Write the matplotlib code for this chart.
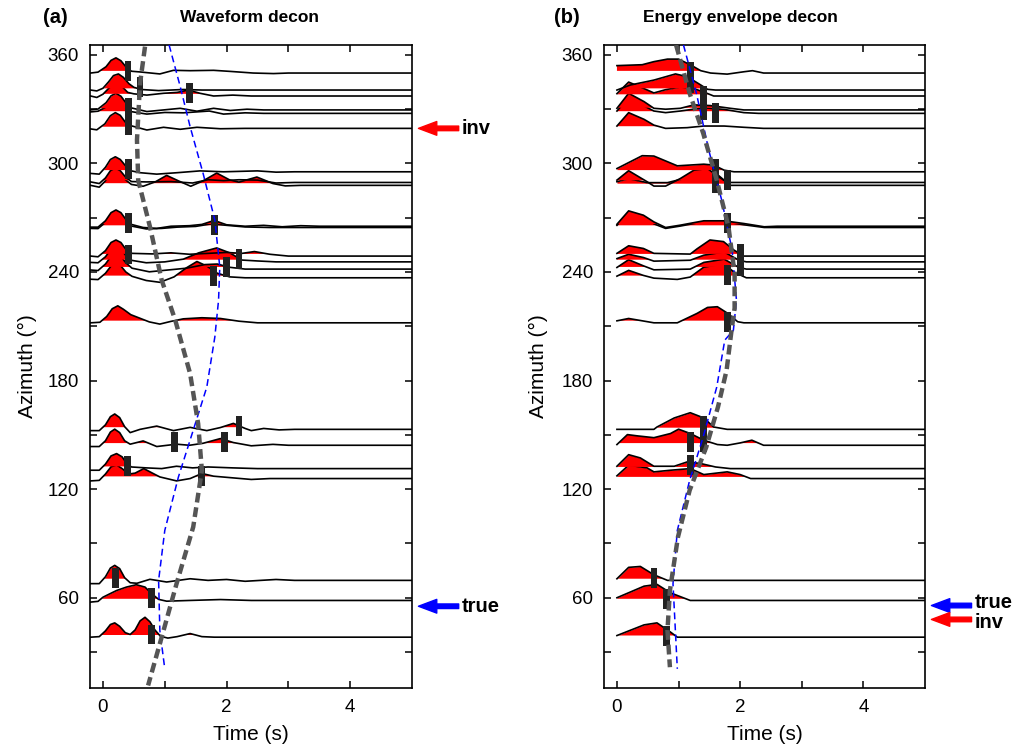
import numpy as np
import matplotlib
matplotlib.use('Agg')
import matplotlib.pyplot as plt
from matplotlib.patches import Rectangle
from matplotlib.transforms import blended_transform_factory

plt.rcParams['font.family'] = ['Liberation Sans', 'DejaVu Sans']

# station azimuths (deg), shared by both panels
azimuths = [350.0, 340.6, 337.3, 329.6, 327.7, 319.4,
            295.4, 289.5, 287.9, 265.3, 264.6,
            248.8, 245.6, 241.6, 236.8, 211.9,
            153.0, 144.2, 131.3, 125.8, 69.5, 58.4, 38.1]

# (a) waveform decon traces, (time s, amplitude deg) knots
wave_knots = [
    [(-0.2, 0.0), (-0.08, 0.5), (0.05, 3.5), (0.13, 7.0), (0.21, 8.4), (0.29, 6.8), (0.37, 3.5), (0.46, 1.0),
     (0.6, 0.6), (0.92, -0.5), (1.14, 1.5), (1.41, 1.3), (1.79, 1.5), (2.06, 0.9), (2.43, 0.0), (2.76, -0.3), (3.0, 0.0), (5.0, 0.0)],
    [(-0.2, 0.0), (-0.1, -0.5), (0.0, 1.0), (0.09, 4.5), (0.17, 8.0), (0.25, 8.9), (0.33, 7.0), (0.42, 3.5),
     (0.5, 1.5), (0.62, 0.3), (0.9, -0.3), (1.3, 0.3), (1.6, 0.0), (5.0, 0.0)],
    [(-0.2, 0.0), (-0.1, -0.8), (0.0, 1.0), (0.1, 4.5), (0.2, 7.0), (0.3, 5.5), (0.4, 2.0), (0.5, 1.2),
     (0.71, 0.5), (0.98, 1.5), (1.2, 2.0), (1.38, 3.3), (1.57, 1.5), (1.79, 0.0), (2.1, 0.5), (2.4, 0.0), (5.0, 0.0)],
    [(-0.2, 0.0), (-0.08, 0.5), (0.05, 4.0), (0.13, 7.8), (0.21, 9.2), (0.29, 7.6), (0.37, 4.0), (0.45, 1.2),
     (0.71, -0.9), (0.98, 0.0), (1.25, 0.9), (1.52, -0.7), (1.79, 0.9), (2.06, -0.3), (2.33, 0.4), (2.6, 0.0), (5.0, 0.0)],
    [(-0.2, 0.8), (-0.08, 1.2), (0.05, 3.5), (0.13, 6.5), (0.21, 7.5), (0.29, 6.3), (0.37, 3.0), (0.45, 1.0),
     (0.71, -0.4), (1.0, 0.5), (1.3, 0.3), (1.72, 1.3), (1.95, -0.4), (2.3, 0.3), (2.6, 0.0), (5.0, 0.0)],
    [(-0.2, -0.3), (-0.1, -0.8), (0.03, 2.5), (0.12, 7.0), (0.2, 8.7), (0.28, 7.2), (0.36, 3.5), (0.45, 1.5),
     (0.71, -0.9), (0.98, 0.6), (1.25, -0.5), (1.52, 0.6), (1.9, -0.2), (2.3, 0.0), (5.0, 0.0)],
    [(-0.2, -0.9), (-0.06, -1.3), (0.04, 2.5), (0.12, 6.8), (0.2, 8.3), (0.28, 6.8), (0.36, 3.5), (0.46, 0.5),
     (0.6, -0.5), (0.87, -1.3), (1.2, -0.5), (1.57, 0.5), (1.95, 0.0), (2.5, 0.5), (2.8, -0.2), (3.1, 0.0), (5.0, 0.0)],
    [(-0.2, 0.3), (-0.06, -0.6), (0.04, 2.5), (0.12, 6.5), (0.2, 8.0), (0.28, 6.5), (0.36, 3.2), (0.46, 0.5),
     (0.7, 0.3), (1.1, 0.5), (1.45, -0.3), (1.7, 1.5), (1.95, 1.0), (2.2, 1.5), (2.5, 1.3), (2.8, -0.3), (3.1, 0.0), (5.0, 0.0)],
    [(-0.2, 0.0), (-0.06, -1.0), (0.04, 2.5), (0.12, 6.5), (0.2, 8.0), (0.28, 6.5), (0.36, 3.2), (0.46, 0.5),
     (0.65, -0.5), (0.85, 2.0), (1.03, 5.5), (1.22, 2.5), (1.42, -0.5), (1.62, 2.5), (1.84, 6.8), (2.05, 3.0),
     (2.2, 1.8), (2.49, 4.6), (2.75, 1.0), (2.95, -0.3), (3.2, 0.0), (5.0, 0.0)],
    [(-0.2, -0.5), (-0.08, -0.5), (0.04, 3.0), (0.13, 7.5), (0.21, 9.0), (0.29, 7.5), (0.37, 3.8), (0.46, 1.0),
     (0.65, -0.7), (0.87, -1.2), (1.1, 0.0), (1.4, 0.3), (1.6, 1.0), (1.8, 3.2), (2.0, 0.8), (2.3, 0.0),
     (2.6, 0.5), (2.9, -0.3), (3.2, 0.3), (3.5, 0.0), (5.0, 0.0)],
    [(-0.2, -0.5), (-0.08, -0.6), (0.04, 2.8), (0.13, 7.0), (0.21, 8.5), (0.29, 7.0), (0.37, 3.5), (0.46, 0.8),
     (0.7, -0.8), (0.95, -0.5), (1.2, 0.2), (1.5, 0.6), (1.75, 2.0), (2.0, 1.2), (2.3, 0.3), (2.7, 0.0), (5.0, 0.0)],
    [(-0.2, 0.0), (-0.08, -0.4), (0.04, 3.0), (0.13, 7.5), (0.21, 8.9), (0.29, 7.5), (0.37, 3.8), (0.47, 1.5),
     (0.8, 1.2), (1.1, 1.8), (1.4, 1.0), (1.7, 1.5), (2.0, 2.0), (2.25, 1.5), (2.45, 2.5), (2.7, 1.0), (3.0, 0.0), (5.0, 0.0)],
    [(-0.2, -0.3), (-0.08, -0.5), (0.04, 2.8), (0.13, 7.0), (0.21, 8.5), (0.29, 7.0), (0.37, 3.5), (0.47, 0.8),
     (0.7, -0.5), (1.0, 0.0), (1.3, 1.5), (1.55, 5.0), (1.84, 7.7), (2.05, 5.0), (2.25, 1.0), (2.5, 0.5), (2.8, 0.0), (5.0, 0.0)],
    [(-0.2, -0.5), (-0.08, -0.8), (0.04, 2.8), (0.13, 7.0), (0.21, 8.5), (0.29, 7.0), (0.37, 3.5), (0.47, 0.5),
     (0.75, -1.5), (1.05, -0.5), (1.35, 0.5), (1.65, 2.5), (1.85, 2.8), (2.05, 1.0), (2.3, 0.0), (5.0, 0.0)],
    [(-0.2, -0.8), (-0.08, -1.0), (0.04, 2.5), (0.13, 6.5), (0.21, 8.0), (0.29, 6.5), (0.37, 3.2), (0.47, 0.8),
     (0.7, -1.5), (0.92, -2.5), (1.15, 0.5), (1.35, 5.5), (1.52, 9.0), (1.68, 6.5), (1.85, 2.5), (2.05, 0.5), (2.3, 0.0), (5.0, 0.0)],
    [(-0.2, 0.0), (-0.05, 0.3), (0.06, 3.5), (0.15, 7.8), (0.24, 9.4), (0.33, 7.5), (0.45, 4.5), (0.6, 2.5),
     (0.75, 0.5), (0.92, -0.7), (1.1, 0.8), (1.3, 2.2), (1.6, 2.8), (1.9, 2.4), (2.2, 0.9), (2.5, 0.0), (5.0, 0.0)],
    [(-0.2, -0.7), (-0.06, -0.7), (0.04, 2.5), (0.12, 7.0), (0.19, 8.5), (0.27, 6.5), (0.35, 1.5), (0.44, -1.8),
     (0.6, 0.0), (0.87, 1.8), (1.14, -0.7), (1.41, 1.1), (1.68, -0.7), (1.9, 1.0), (2.11, 3.3), (2.3, 0.5),
     (2.4, -0.7), (2.6, 0.5), (2.85, -0.3), (3.1, 0.0), (5.0, 0.0)],
    [(-0.2, -0.7), (-0.06, -0.7), (0.04, 2.5), (0.12, 7.3), (0.19, 8.9), (0.27, 7.0), (0.35, 2.5), (0.44, 0.6),
     (0.65, 2.4), (0.87, -0.7), (1.19, 0.6), (1.4, 0.0), (1.62, 1.1), (1.9, 3.7), (2.11, 1.5), (2.4, -0.3),
     (2.75, 0.5), (3.0, 0.0), (5.0, 0.0)],
    [(-0.2, -0.9), (-0.06, -0.9), (0.04, 2.5), (0.13, 7.0), (0.22, 8.3), (0.31, 6.5), (0.38, 3.0), (0.46, 0.9),
     (0.7, 0.4), (0.95, 0.0), (1.19, 1.3), (1.45, 0.4), (1.7, 0.9), (2.1, 0.4), (2.5, 0.0), (5.0, 0.0)],
    [(-0.2, -1.3), (-0.06, -1.0), (0.04, 2.5), (0.13, 6.5), (0.22, 7.5), (0.31, 5.5), (0.42, 2.5), (0.52, 3.0),
     (0.66, 5.5), (0.8, 3.0), (0.92, 0.9), (1.19, -1.3), (1.41, 0.0), (1.6, 2.8), (1.79, 1.3), (2.06, 0.5),
     (2.4, -0.5), (2.7, 0.0), (5.0, 0.0)],
    [(-0.2, -1.8), (-0.06, -1.8), (0.04, 2.0), (0.12, 6.8), (0.19, 8.3), (0.27, 6.5), (0.35, 1.5), (0.44, -1.3),
     (0.55, -1.6), (0.76, 0.6), (1.03, -0.9), (1.41, 0.9), (1.7, 0.0), (2.0, 0.5), (2.3, -0.5), (2.8, 0.5), (3.1, 0.0), (5.0, 0.0)],
    [(-0.2, -0.9), (-0.08, -0.5), (0.0, 1.8), (0.1, 3.5), (0.22, 5.5), (0.38, 7.4), (0.54, 8.7), (0.68, 7.4),
     (0.79, 3.7), (0.9, 0.6), (1.03, -0.4), (1.4, 0.0), (1.9, 0.5), (2.4, 0.0), (5.0, 0.0)],
    [(-0.2, 0.0), (-0.06, 0.3), (0.04, 3.5), (0.12, 7.0), (0.19, 7.9), (0.27, 6.0), (0.36, 2.5), (0.44, 1.5),
     (0.52, 4.0), (0.6, 9.0), (0.68, 11.0), (0.76, 8.5), (0.84, 4.0), (0.93, 0.5), (1.05, -0.5), (1.2, 0.3),
     (1.41, 2.0), (1.6, 0.3), (1.8, 0.0), (5.0, 0.0)],
]

# (b) energy envelope decon traces
env_knots = [
    [(0.0, 4.1), (0.41, 4.6), (0.6, 6.3), (0.82, 7.7), (1.0, 7.7), (1.2, 4.4), (1.36, 1.3), (1.52, 0.0),
     (1.79, -0.6), (2.06, 0.7), (2.2, 1.3), (2.38, 0.0), (5.0, 0.0)],
    [(0.0, 0.0), (0.22, 2.8), (0.6, 5.5), (0.95, 8.9), (1.14, 7.4), (1.36, 2.8), (1.47, 0.4), (1.6, 0.0), (5.0, 0.0)],
    [(0.0, 1.3), (0.19, 7.7), (0.38, 5.0), (0.6, 1.7), (0.79, 3.5), (1.03, 5.0), (1.25, 4.1), (1.41, 2.2),
     (1.57, 0.0), (5.0, 0.0)],
    [(0.0, 0.9), (0.19, 9.2), (0.44, 4.6), (0.6, 0.9), (0.79, 0.4), (1.03, 0.9), (1.25, 2.8), (1.52, 2.4),
     (1.84, 0.9), (2.06, 0.0), (5.0, 0.0)],
    [(0.0, 1.3), (0.19, 8.7), (0.44, 4.1), (0.6, 1.3), (0.79, 0.4), (1.03, 1.3), (1.41, 3.1), (1.74, 2.2),
     (2.06, 0.4), (2.3, 0.0), (5.0, 0.0)],
    [(0.0, 1.3), (0.19, 8.7), (0.44, 5.0), (0.6, 1.8), (0.79, 0.0), (1.14, 0.4), (1.41, 1.3), (1.74, 1.3),
     (2.06, 0.6), (2.38, 0.0), (5.0, 0.0)],
    [(0.0, 1.8), (0.41, 8.9), (0.6, 8.7), (0.98, 3.3), (1.41, 4.2), (1.57, 3.7), (1.74, 0.9), (1.9, 0.0), (5.0, 0.0)],
    [(0.0, 1.3), (0.19, 6.5), (0.49, 0.4), (0.6, -2.0), (0.79, -2.0), (1.03, 2.2), (1.25, 6.8), (1.47, 7.7),
     (1.65, 3.1), (1.79, 0.0), (5.0, 0.0)],
    [(0.0, 2.0), (0.19, 3.7), (0.49, 1.5), (0.82, 1.5), (1.14, 4.2), (1.41, 8.5), (1.63, 6.0), (1.84, 0.0), (5.0, 0.0)],
    [(0.0, 1.1), (0.19, 8.5), (0.43, 6.1), (0.6, 2.4), (0.79, -0.7), (1.03, 0.6), (1.41, 3.0), (1.74, 3.0),
     (2.06, 1.5), (2.39, -0.3), (2.6, 0.0), (5.0, 0.0)],
    [(0.0, 1.2), (0.19, 8.2), (0.43, 5.8), (0.6, 2.0), (0.79, -0.5), (1.03, 0.8), (1.41, 3.2), (1.74, 3.2),
     (2.06, 1.5), (2.39, 0.0), (5.0, 0.0)],
    [(0.0, 1.5), (0.19, 5.7), (0.43, 4.2), (0.6, 1.5), (1.19, 1.1), (1.3, 4.0), (1.51, 8.9), (1.73, 8.0),
     (1.9, 3.3), (2.06, 0.0), (5.0, 0.0)],
    [(0.0, 1.8), (0.19, 4.2), (0.43, 2.4), (0.6, 0.4), (1.19, 0.9), (1.41, 3.7), (1.74, 5.5), (1.98, 0.9),
     (2.1, 0.0), (5.0, 0.0)],
    [(0.0, 0.9), (0.19, 5.2), (0.43, 1.8), (0.6, -0.4), (1.19, 0.0), (1.41, 3.7), (1.74, 5.5), (1.98, 0.9),
     (2.1, 0.0), (5.0, 0.0)],
    [(0.0, 0.9), (0.19, 4.1), (0.43, 1.3), (0.6, -0.2), (0.98, -0.9), (1.19, 0.4), (1.41, 5.9), (1.74, 7.7),
     (1.9, 3.1), (2.1, 0.0), (5.0, 0.0)],
    [(0.0, 1.1), (0.19, 2.4), (0.6, 0.0), (0.98, 0.0), (1.3, 5.2), (1.47, 8.5), (1.63, 8.9), (1.8, 5.2),
     (1.96, 0.6), (2.06, 0.0), (5.0, 0.0)],
    [(0.0, 0.0), (0.6, 0.0), (0.65, 1.3), (0.93, 6.3), (1.19, 9.2), (1.41, 6.3), (1.57, 1.3), (1.79, 0.0), (5.0, 0.0)],
    [(0.0, 0.4), (0.17, 5.9), (0.33, 5.2), (0.6, 4.2), (0.87, 6.5), (1.0, 8.9), (1.19, 6.5), (1.41, 2.8),
     (1.63, 0.4), (1.79, 0.0), (2.0, 1.3), (2.19, 2.8), (2.38, 0.0), (5.0, 0.0)],
    [(0.0, 1.3), (0.19, 7.7), (0.38, 5.9), (0.6, 1.3), (0.93, 1.3), (1.14, 3.7), (1.36, 2.8), (1.6, 0.9),
     (1.84, 0.0), (5.0, 0.0)],
    [(0.0, 1.5), (0.19, 7.4), (0.49, 5.9), (0.6, 3.7), (0.87, 4.6), (1.19, 5.5), (1.41, 2.2), (1.79, 3.7),
     (2.0, 2.2), (2.17, 0.0), (5.0, 0.0)],
    [(0.0, 0.9), (0.19, 7.2), (0.38, 7.7), (0.6, 3.1), (0.82, 0.0), (5.0, 0.0)],
    [(0.0, 1.5), (0.44, 7.9), (0.65, 8.9), (0.87, 4.2), (1.19, 0.0), (5.0, 0.0)],
    [(0.0, 0.9), (0.44, 6.8), (0.65, 7.9), (0.87, 2.8), (0.98, 0.0), (5.0, 0.0)],
]

# picked arrivals (black bars)
pick_a_t = [0.405, 0.6, 1.40, 0.41, 0.41, 0.41, 0.41, 1.80, 0.41, 2.2, 2.0, 1.79,
            2.20, 1.16, 1.97, 0.40, 1.60, 0.2, 0.79, 0.79]
pick_a_az = [350.9, 342.1, 339.1, 330.5, 321.3, 296.7, 267.0, 265.9, 249.7, 247.3, 242.8, 237.9,
             155.0, 146.0, 146.0, 132.7, 127.0, 70.7, 59.7, 39.6]
pick_b_t = [1.19, 1.19, 1.40, 1.40, 1.6, 1.6, 1.6, 1.79, 1.80, 2.0, 2.0, 1.8,
            1.8, 1.40, 1.40, 1.19, 1.19, 0.6, 0.8, 0.8]
pick_b_az = [350.8, 344.3, 337.3, 329.6, 328.1, 296.7, 289.3, 291.0, 266.9, 249.9, 243.2, 238.3,
             212.4, 154.7, 146.0, 146.0, 133.2, 70.6, 59.0, 38.9]

# moveout curves: gray = inverted, blue = true
gray_a_t = [0.68, 0.60, 0.55, 0.57, 0.76, 0.95, 1.17, 1.41, 1.54, 1.60, 1.46, 1.19, 0.98, 0.73]
gray_a_az = [364.6, 344.3, 313.0, 290.8, 265.0, 235.5, 213.3, 183.8, 156.1, 130.3, 99.0, 67.6, 41.8, 11.4]
blue_a_t = [1.07, 1.25, 1.41, 1.62, 1.81, 1.89, 1.87, 1.81, 1.68, 1.46, 1.22, 1.00, 0.90, 0.92, 1.00]
blue_a_az = [365.5, 342.5, 320.3, 294.5, 268.7, 242.8, 224.4, 204.1, 176.4, 152.5, 126.6, 97.1, 69.5, 41.8, 20.6]
gray_b_t = [0.96, 1.18, 1.40, 1.62, 1.81, 1.91, 1.91, 1.86, 1.78, 1.64, 1.45, 1.18, 0.99, 0.86, 0.82, 0.86]
gray_b_az = [365.5, 338.8, 316.7, 290.8, 265.0, 239.2, 220.0, 207.8, 185.7, 165.4, 143.2, 119.3, 93.4, 63.9, 41.8, 21.5]
blue_b_t = [1.08, 1.29, 1.49, 1.70, 1.87, 1.94, 1.89, 1.75, 1.62, 1.40, 1.18, 0.98, 0.91, 0.98]
blue_b_az = [365.5, 338.8, 307.4, 279.8, 252.0, 224.4, 207.8, 202.3, 176.4, 148.8, 124.8, 97.1, 67.6, 20.6]

# side arrows: label, arrow azimuth, label azimuth, colour
arrows_a = [('inv', 319.4, 319.4, 'red'), ('true', 55.2, 55.2, 'blue')]
arrows_b = [('true', 55.6, 57.2, 'blue'), ('inv', 47.9, 46.0, 'red')]

FILL_THR = 1.2
PICK_W, PICK_H = 0.11, 11.0


def draw_panel(ax, knots, pick_t, pick_az, gray_t, gray_az, blue_t, blue_az, arrows):
    # traces from low to high azimuth so upper fills cover lower lines
    for az, kn in sorted(zip(azimuths, knots), key=lambda p: p[0]):
        t = np.array([k[0] for k in kn])
        a = np.array([k[1] for k in kn])
        ax.fill_between(t, az + FILL_THR, az + a, where=a > FILL_THR, interpolate=True,
                        color='red', lw=0, zorder=2)
        ax.plot(t, az + a, color='black', lw=1.2, zorder=2)

    for t, az in zip(pick_t, pick_az):
        ax.add_patch(Rectangle((t - PICK_W / 2, az - PICK_H / 2), PICK_W, PICK_H,
                               color='#222222', lw=0, zorder=3))

    ax.plot(blue_t, blue_az, color='blue', lw=1.1, dashes=(4.5, 2.7), zorder=4)
    ax.plot(gray_t, gray_az, color='#555555', lw=3.2, dashes=(2.2, 1.1), zorder=5)

    trans = blended_transform_factory(ax.transAxes, ax.transData)
    for label, az, text_az, col in arrows:
        ax.annotate('', xy=(1.02, az), xycoords=trans, xytext=(1.145, az), textcoords=trans,
                    arrowprops=dict(arrowstyle='simple,head_length=0.6,head_width=0.45,tail_width=0.15',
                                    color=col, mutation_scale=22, shrinkA=0, shrinkB=0),
                    annotation_clip=False)
        ax.text(1.155, text_az, label, transform=trans, fontsize=14.5, fontweight='bold',
                ha='left', va='center', clip_on=False)

    ax.set_xlim(-0.21, 5.0)
    ax.set_ylim(10, 365.5)
    ax.set_xticks([0, 1, 2, 3, 4])
    ax.set_xticklabels(['0', '', '2', '', '4'])
    ax.set_yticks(np.arange(30, 361, 30))
    ax.set_yticklabels(['' if v % 60 else str(v) for v in range(30, 361, 30)])
    ax.tick_params(direction='in', top=True, right=True, length=5, width=1.1, labelsize=13.5, pad=8)
    for sp in ax.spines.values():
        sp.set_linewidth(1.2)
    ax.set_xlabel('Time (s)', fontsize=15)
    ax.set_ylabel('Azimuth (°)', fontsize=15)
    ax.xaxis.set_label_coords(0.5, -0.058)


fig = plt.figure(figsize=(10.23, 7.53), dpi=100)
ax1 = fig.add_axes([90 / 1023, 1 - 688 / 753, 322 / 1023, 643 / 753])
ax2 = fig.add_axes([604 / 1023, 1 - 688 / 753, 321 / 1023, 643 / 753])

draw_panel(ax1, wave_knots, pick_a_t, pick_a_az, gray_a_t, gray_a_az, blue_a_t, blue_a_az, arrows_a)
draw_panel(ax2, env_knots, pick_b_t, pick_b_az, gray_b_t, gray_b_az, blue_b_t, blue_b_az, arrows_b)
ax1.yaxis.set_label_coords(-0.165, 0.5)
ax2.yaxis.set_label_coords(-0.174, 0.5)

ax1.text(-0.109, 1.042, '(a)', transform=ax1.transAxes, fontsize=14.5, fontweight='bold', ha='center', va='center')
ax1.text(0.495, 1.042, 'Waveform decon', transform=ax1.transAxes, fontsize=12.5, fontweight='bold',
         ha='center', va='center')
ax2.text(-0.115, 1.042, '(b)', transform=ax2.transAxes, fontsize=14.5, fontweight='bold', ha='center', va='center')
ax2.text(0.424, 1.042, 'Energy envelope decon', transform=ax2.transAxes, fontsize=12.5, fontweight='bold',
         ha='center', va='center')

fig.savefig('out.png', dpi=100)
